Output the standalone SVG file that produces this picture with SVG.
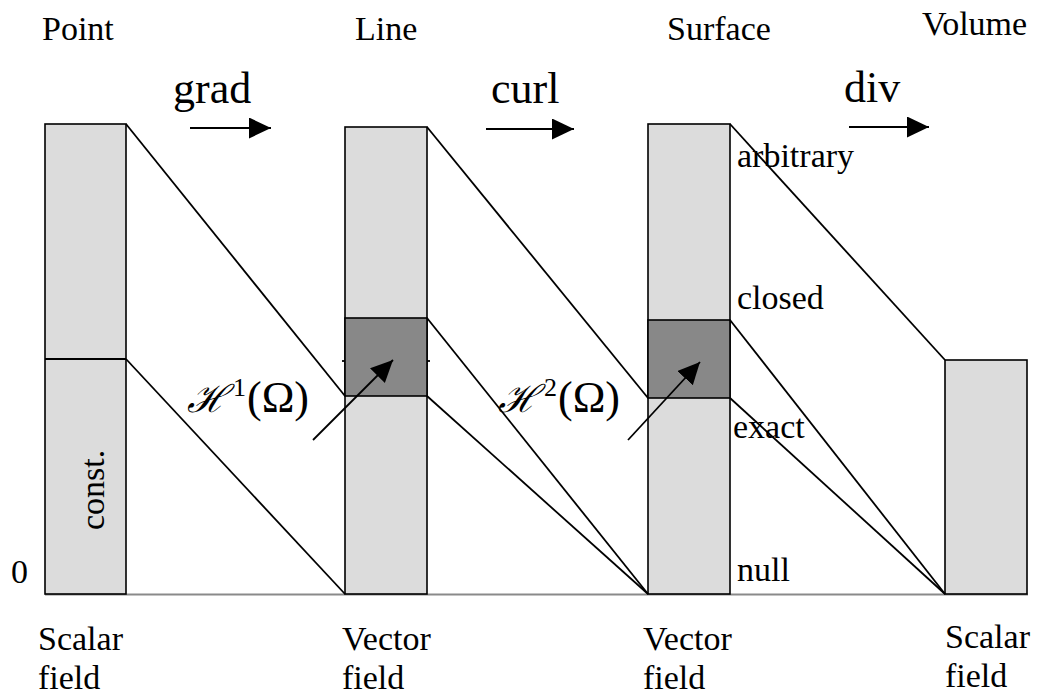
<svg xmlns="http://www.w3.org/2000/svg" width="1040" height="697" viewBox="0 0 1040 697">
<style>
text{font-family:"Liberation Serif","Times New Roman","DejaVu Serif",serif;fill:#000}
.lbl{font-size:34px}
.op{font-size:44px}
.bot{font-size:34px}
.math{font-size:44px}
.light{fill:#dcdcdc;stroke:#000;stroke-width:1.6}
.dark{fill:#888888;stroke:#000;stroke-width:1.6}
.ln{stroke:#000;stroke-width:1.8;fill:none}
.ar{stroke:#000;stroke-width:1.8;fill:none}
</style>
<defs>
<marker id="ah" markerUnits="userSpaceOnUse" markerWidth="24" markerHeight="22" refX="22" refY="10.5" orient="auto">
<path d="M0,0 L22,10.5 L0,21 Z" fill="#000"/>
</marker>
</defs>
<rect width="1040" height="697" fill="#fff"/>
<line x1="45" y1="594.5" x2="1028" y2="594.5" stroke="#8a8a8a" stroke-width="2.2"/>
<g id="col-point">
<rect class="light" x="45" y="124" width="81" height="470"/>
<line class="ln" x1="45" y1="359" x2="126" y2="359"/>
<text class="lbl" transform="translate(104,530) rotate(-90)" font-size="32">const.</text>
</g>
<g id="col-line">
<rect class="light" x="345" y="127" width="82" height="467"/>
<rect class="dark" x="345" y="318" width="82" height="78"/>
<line class="ln" x1="342" y1="361" x2="345" y2="361"/>
<line class="ln" x1="427" y1="361" x2="430" y2="361"/>
</g>
<g id="col-surface">
<rect class="light" x="648" y="124" width="82" height="470"/>
<rect class="dark" x="648" y="320" width="82" height="78"/>
</g>
<g id="col-volume">
<rect class="light" x="945" y="360" width="82" height="234"/>
</g>
<g id="connectors">
<line class="ln" x1="126" y1="124" x2="345" y2="396"/>
<line class="ln" x1="126" y1="359" x2="345" y2="594"/>
<line class="ln" x1="427" y1="127" x2="648" y2="398"/>
<line class="ln" x1="427" y1="318" x2="648" y2="594"/>
<line class="ln" x1="427" y1="396" x2="648" y2="594"/>
<line class="ln" x1="730" y1="124" x2="945" y2="360"/>
<line class="ln" x1="730" y1="320" x2="945" y2="594"/>
<line class="ln" x1="730" y1="398" x2="945" y2="594"/>
<line class="ar" x1="190" y1="128" x2="271" y2="128" marker-end="url(#ah)"/>
<line class="ar" x1="486" y1="129" x2="574" y2="129" marker-end="url(#ah)"/>
<line class="ar" x1="849" y1="127" x2="929" y2="127" marker-end="url(#ah)"/>
<line class="ar" x1="313" y1="440" x2="393" y2="360" marker-end="url(#ah)"/>
<line class="ar" x1="628" y1="440" x2="700" y2="362" marker-end="url(#ah)"/>
</g>
<g id="labels">
<text class="lbl" x="42" y="40">Point</text>
<text class="lbl" x="355" y="40">Line</text>
<text class="lbl" x="667" y="40">Surface</text>
<text class="lbl" x="922" y="35">Volume</text>
<text class="op" x="173" y="103">grad</text>
<text class="op" x="491" y="103">curl</text>
<text class="op" x="844" y="102">div</text>
<text class="lbl" x="737" y="167">arbitrary</text>
<text class="lbl" x="737" y="309">closed</text>
<text class="lbl" x="733" y="438">exact</text>
<text class="lbl" x="737" y="581">null</text>
<text class="lbl" x="11" y="583" font-size="32">0</text>
<text class="bot" x="38" y="650">Scalar</text>
<text class="bot" x="38" y="689">field</text>
<text class="bot" x="342" y="650">Vector</text>
<text class="bot" x="342" y="689">field</text>
<text class="bot" x="643" y="650">Vector</text>
<text class="bot" x="643" y="689">field</text>
<text class="bot" x="945" y="648">Scalar</text>
<text class="bot" x="945" y="687">field</text>
<text class="math" y="412"><tspan x="187" font-family="DejaVu Serif" font-style="italic" font-size="38">ℋ</tspan><tspan x="233" dy="-16" font-size="26">1</tspan><tspan x="247" dy="16">(Ω)</tspan></text>
<text class="math" y="412"><tspan x="498" font-family="DejaVu Serif" font-style="italic" font-size="38">ℋ</tspan><tspan x="544" dy="-16" font-size="26">2</tspan><tspan x="558" dy="16">(Ω)</tspan></text>
</g>
</svg>
